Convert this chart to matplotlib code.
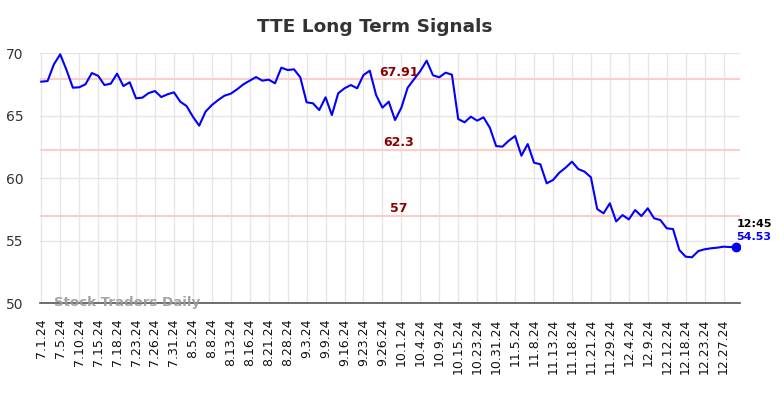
import matplotlib
matplotlib.use("Agg")
import matplotlib.pyplot as plt

tick_labels = ["7.1.24", "7.5.24", "7.10.24", "7.15.24", "7.18.24", "7.23.24", "7.26.24",
               "7.31.24", "8.5.24", "8.8.24", "8.13.24", "8.16.24", "8.21.24", "8.28.24",
               "9.3.24", "9.9.24", "9.16.24", "9.23.24", "9.26.24", "10.1.24", "10.4.24",
               "10.9.24", "10.15.24", "10.23.24", "10.31.24", "11.5.24", "11.8.24",
               "11.13.24", "11.18.24", "11.21.24", "11.29.24", "12.4.24", "12.9.24",
               "12.12.24", "12.18.24", "12.23.24", "12.27.24"]

values = [67.73, 67.78, 69.12, 69.92, 68.66, 67.25, 67.28, 67.52, 68.42, 68.2,
          67.46, 67.57, 68.37, 67.38, 67.68, 66.4, 66.45, 66.82, 66.98, 66.5,
          66.72, 66.88, 66.13, 65.78, 64.93, 64.21, 65.33, 65.86, 66.26, 66.61,
          66.77, 67.12, 67.52, 67.81, 68.10, 67.81, 67.89, 67.6, 68.85, 68.66,
          68.72, 68.08, 66.08, 66.0, 65.46, 66.48, 65.06, 66.8, 67.2, 67.46,
          67.2, 68.26, 68.61, 66.66, 65.65, 66.13, 64.66, 65.65, 67.25, 67.92,
          68.58, 69.41, 68.24, 68.08, 68.45, 68.29, 64.74, 64.48, 64.93, 64.61,
          64.88, 64.05, 62.58, 62.53, 63.01, 63.38, 61.81, 62.74, 61.25, 61.12,
          59.6, 59.86, 60.45, 60.85, 61.33, 60.74, 60.53, 60.08, 57.54, 57.2,
          58.0, 56.55, 57.06, 56.71, 57.46, 56.98, 57.6, 56.8, 56.66, 56.0,
          55.94, 54.26, 53.73, 53.68, 54.18, 54.32, 54.4, 54.45, 54.53, 54.5,
          54.53]

signal_levels = [67.91, 62.3, 57]
signal_labels = ["67.91", "62.3", "57"]
last_time = "12:45"
last_value = 54.53

fig = plt.figure(figsize=(7.84, 3.98), dpi=100)
ax = fig.add_axes([40 / 784, 1 - 303.3 / 398, 700 / 784, 250 / 398])

x = list(range(len(values)))
tick_pos = list(range(0, 3 * len(tick_labels), 3))

for lvl in signal_levels:
    ax.axhline(lvl, color="#ffcccc", lw=1.5, zorder=1)

ax.plot(x, values, color="#0000ff", lw=1.5, zorder=3)
ax.plot(x[-1], values[-1], "o", color="#0000ff", ms=6, zorder=4)

label_x = 56.6
for lvl, lab in zip(signal_levels, signal_labels):
    ax.text(label_x, lvl + 0.05, lab, color="#8b0000", fontsize=9, fontweight="bold",
            ha="center", va="bottom", zorder=5)

ax.text(x[-1], values[-1] + 1.45, last_time, color="black", fontsize=8,
        fontweight="bold", ha="left", va="bottom")
ax.text(x[-1], values[-1] + 0.4, f"{last_value:.2f}", color="#0000ff", fontsize=8,
        fontweight="bold", ha="left", va="bottom")

ax.text(2, 50.05, "Stock Traders Daily", color="#999999", fontsize=9.6,
        fontweight="bold", ha="left", va="center", alpha=0.9, zorder=6)

ax.set_xlim(-0.2, 110.6)
ax.set_ylim(50, 70)
ax.set_yticks([50, 55, 60, 65, 70])
ax.set_xticks(tick_pos)
ax.set_xticklabels(tick_labels, rotation=90, fontsize=9, color="#111111")
ax.tick_params(axis="y", labelsize=10, colors="#333333", length=0, pad=12)
ax.tick_params(axis="x", length=0, pad=11)
ax.grid(True, color="#e6e6e6", lw=1)
ax.set_axisbelow(True)
for s in ["top", "right", "left"]:
    ax.spines[s].set_visible(False)
ax.spines["bottom"].set_color("#555555")
ax.spines["bottom"].set_linewidth(1.2)

fig.suptitle("TTE Long Term Signals", x=0.478, y=0.955, fontsize=13.3, fontweight="bold",
             color="#333333")

fig.savefig("out.png", dpi=100)
